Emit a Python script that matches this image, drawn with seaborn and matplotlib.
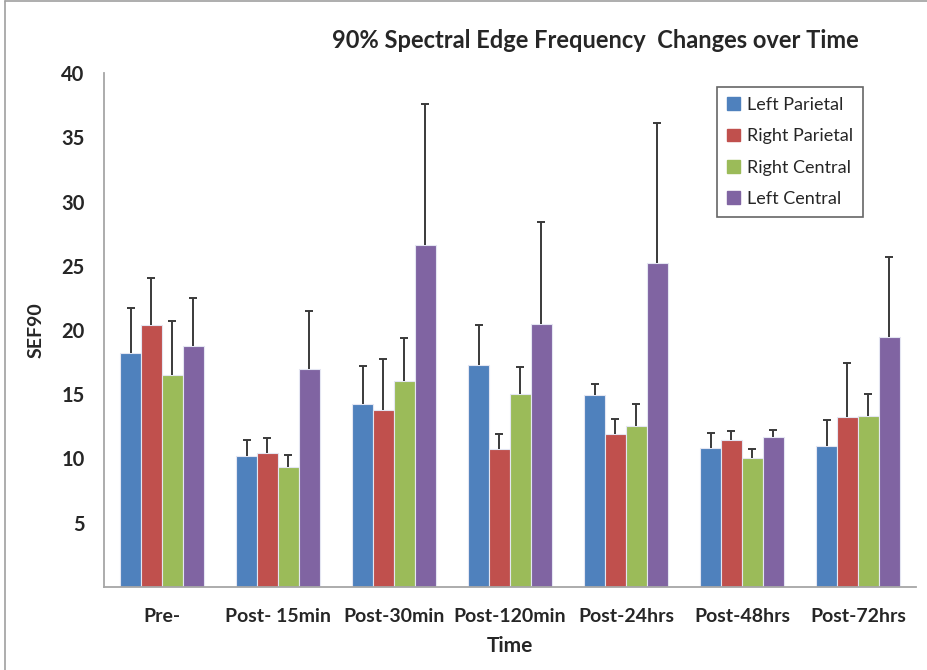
import matplotlib
matplotlib.use("Agg")
import matplotlib.pyplot as plt
import matplotlib.lines as mlines
import matplotlib.patches as mpatches
import numpy as np
import pandas as pd
import seaborn as sns

# ── Data ─────────────────────────────────────────────────────────────────────
time_points = ["Pre-", "Post- 15min", "Post-30min", "Post-120min",
               "Post-24hrs", "Post-48hrs", "Post-72hrs"]
regions = ["Left Parietal", "Right Parietal", "Right Central", "Left Central"]

left_parietal  = [18.2, 10.2, 14.2, 17.25, 14.9, 10.8, 11.0]
right_parietal = [20.4, 10.4, 13.8, 10.75, 11.9, 11.4, 13.2]
right_central  = [16.5,  9.3, 16.05, 15.05, 12.5, 10.05, 13.3]
left_central   = [18.75, 17.0, 26.65, 20.45, 25.2, 11.65, 19.45]

left_parietal_err  = [3.5, 1.25, 3.0, 3.1, 0.9, 1.2, 2.0]
right_parietal_err = [3.65, 1.2, 3.95, 1.15, 1.15, 0.7, 4.2]
right_central_err  = [4.2, 1.0, 3.35, 2.1, 1.7, 0.65, 1.75]
left_central_err   = [3.75, 4.5, 10.95, 7.95, 10.9, 0.6, 6.25]

palette = ["#4F81BD", "#C0504D", "#9BBB59", "#8064A2"]

series = [left_parietal, right_parietal, right_central, left_central]
errors = [left_parietal_err, right_parietal_err, right_central_err, left_central_err]

df = pd.DataFrame({
    "Time": time_points * len(regions),
    "Region": np.repeat(regions, len(time_points)),
    "SEF90": np.concatenate(series),
})

sns.set_style("white")
plt.rcParams["font.family"] = ["Lato", "DejaVu Sans"]

fig = plt.figure(figsize=(9.28, 6.7), dpi=100)
ax = fig.add_axes([0.112, 0.124, 0.875, 0.767])

sns.barplot(data=df, x="Time", y="SEF90", hue="Region", order=time_points,
            hue_order=regions, palette=palette, saturation=1, width=0.72, ax=ax,
            edgecolor="#e4e6f2", linewidth=0.8, legend=False, errorbar=None)

# upper-only error bars, positioned from the drawn bars
for cont, err in zip(ax.containers, errors):
    xs = [b.get_x() + b.get_width() / 2 for b in cont]
    ys = [b.get_height() for b in cont]
    _, caps, _ = ax.errorbar(xs, ys, yerr=[np.zeros(len(err)), err], fmt="none",
                             ecolor="#3a3a3a", elinewidth=1.4, capsize=3,
                             capthick=1.4)
    caps[0].set_visible(False)  # hide the cap sitting on the bar top

ax.set_ylim(0, 40)
ax.set_xlim(-0.5, len(time_points) - 0.5)
ax.set_yticks(np.arange(0, 41, 5))
ax.set_yticklabels([""] + [str(v) for v in range(5, 41, 5)],
                   fontsize=14.5, fontweight="bold")
ax.set_xticks(range(len(time_points)))
ax.set_xticklabels(time_points, fontsize=14, fontweight="bold")
ax.set_xticks(np.arange(-0.5, len(time_points), 1), minor=True)
ax.tick_params(axis="x", which="major", length=0, pad=15)
ax.tick_params(axis="x", which="minor", length=6, color="#a6a6a6", direction="out")
ax.tick_params(axis="y", length=6, color="#a6a6a6", direction="out", pad=8)

for s in ["top", "right"]:
    ax.spines[s].set_visible(False)
for s in ["left", "bottom"]:
    ax.spines[s].set_color("#a6a6a6")
    ax.spines[s].set_linewidth(1.3)

ax.set_xlabel("Time", fontsize=15, fontweight="bold", labelpad=8)
ax.set_ylabel("SEF90", fontsize=14, fontweight="bold", labelpad=12)

handles = [mpatches.Patch(color=c, label=r) for c, r in zip(palette, regions)]
leg = ax.legend(handles=handles, loc="upper left",
                bbox_to_anchor=(0.773, 0.870), bbox_transform=fig.transFigure,
                fontsize=13, frameon=True, fancybox=False, handlelength=0.7,
                handleheight=0.7, handletextpad=0.4, labelspacing=0.85,
                borderpad=0.55, borderaxespad=0)
leg.get_frame().set_edgecolor("#404040")
leg.get_frame().set_linewidth(1.2)

fig.text(0.642, 0.94, "90% Spectral Edge Frequency  Changes over Time",
         ha="center", va="center", fontsize=17, fontweight="bold")

# outer chart-area border
fig.add_artist(mlines.Line2D([0.005, 1.0], [0.998, 0.998], color="#a0a0a0", lw=1.2))
fig.add_artist(mlines.Line2D([0.005, 0.005], [0.0, 0.998], color="#a0a0a0", lw=1.2))

fig.savefig("out.png", dpi=100)
